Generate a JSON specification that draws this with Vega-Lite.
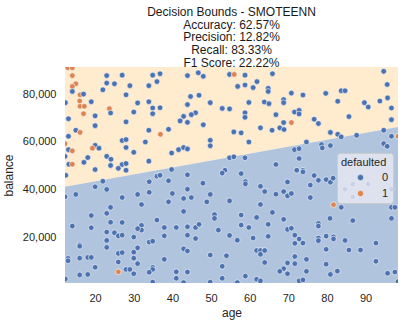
{
"$schema": "https://vega.github.io/schema/vega-lite/v6.json",
"width": 333, "height": 216,
"autosize": {"type": "none"},
"padding": {"left": 65, "top": 67, "right": 8, "bottom": 42},
"background": "white",
"config": {"font": "Liberation Sans", "view": {"stroke": null}},
"title": {"text": ["Decision Bounds - SMOTEENN", "Accuracy: 62.57%", "Precision: 12.82%", "Recall: 83.33%", "F1 Score: 22.22%"], "fontSize": 12, "fontWeight": "normal", "color": "#1a1a1a", "lineHeight": 12.8, "offset": -3, "anchor": "middle"},
"datasets": {
"bound": [{"age": 12.2, "balance": 41300}, {"age": 98.4, "balance": 66300}],
"pts": [
{"age":12.9,"balance":91000,"defaulted":1},{"age":14.1,"balance":91000,"defaulted":1},{"age":23.0,"balance":87700,"defaulted":0},{"age":27.0,"balance":87900,"defaulted":0},{"age":34.9,"balance":87900,"defaulted":0},{"age":36.8,"balance":88500,"defaulted":0},{"age":43.9,"balance":87700,"defaulted":0},{"age":46.7,"balance":88900,"defaulted":0},{"age":48.0,"balance":87400,"defaulted":0},{"age":14.1,"balance":87700,"defaulted":1},
{"age":23.0,"balance":84600,"defaulted":0},{"age":25.0,"balance":84300,"defaulted":0},{"age":29.0,"balance":83500,"defaulted":0},{"age":33.9,"balance":83500,"defaulted":0},{"age":36.0,"balance":85200,"defaulted":0},{"age":15.0,"balance":84300,"defaulted":1},{"age":14.1,"balance":83200,"defaulted":1},{"age":14.1,"balance":81100,"defaulted":0},{"age":22.0,"balance":81800,"defaulted":0},{"age":16.1,"balance":79700,"defaulted":1},
{"age":17.0,"balance":80000,"defaulted":0},{"age":28.0,"balance":79700,"defaulted":0},{"age":44.7,"balance":79000,"defaulted":0},{"age":46.9,"balance":79500,"defaulted":0},{"age":16.0,"balance":77100,"defaulted":1},{"age":19.0,"balance":76800,"defaulted":0},{"age":12.3,"balance":76400,"defaulted":0},{"age":31.0,"balance":76300,"defaulted":0},{"age":33.9,"balance":76800,"defaulted":0},{"age":43.9,"balance":75600,"defaulted":0},
{"age":49.8,"balance":76400,"defaulted":0},{"age":16.1,"balance":74900,"defaulted":1},{"age":17.2,"balance":74900,"defaulted":1},{"age":34.9,"balance":74200,"defaulted":0},{"age":36.8,"balance":74300,"defaulted":0},{"age":52.9,"balance":74000,"defaulted":0},{"age":23.7,"balance":73900,"defaulted":1},{"age":24.0,"balance":72100,"defaulted":0},{"age":30.0,"balance":72500,"defaulted":0},{"age":34.9,"balance":71800,"defaulted":0},
{"age":46.0,"balance":72200,"defaulted":0},{"age":44.9,"balance":71400,"defaulted":0},{"age":42.9,"balance":70700,"defaulted":0},{"age":17.0,"balance":71800,"defaulted":1},{"age":20.0,"balance":70900,"defaulted":0},{"age":42.0,"balance":68800,"defaulted":0},{"age":43.9,"balance":68200,"defaulted":0},{"age":48.0,"balance":67200,"defaulted":0},{"age":28.0,"balance":68400,"defaulted":0},{"age":20.0,"balance":66800,"defaulted":0},
{"age":15.0,"balance":64900,"defaulted":0},{"age":16.1,"balance":64000,"defaulted":1},{"age":33.9,"balance":64900,"defaulted":0},{"age":39.0,"balance":65300,"defaulted":0},{"age":36.9,"balance":63200,"defaulted":1},{"age":27.0,"balance":60600,"defaulted":0},{"age":28.0,"balance":61000,"defaulted":0},{"age":33.0,"balance":60000,"defaulted":0},{"age":49.8,"balance":60700,"defaulted":0},{"age":12.2,"balance":59300,"defaulted":1},
{"age":13.1,"balance":56800,"defaulted":0},{"age":13.1,"balance":62400,"defaulted":0},{"age":20.0,"balance":58600,"defaulted":0},{"age":19.3,"balance":57400,"defaulted":1},{"age":21.0,"balance":57400,"defaulted":0},{"age":28.0,"balance":57700,"defaulted":0},{"age":30.0,"balance":55700,"defaulted":0},{"age":39.8,"balance":55400,"defaulted":0},{"age":41.6,"balance":56800,"defaulted":0},{"age":42.9,"balance":57700,"defaulted":0},
{"age":43.9,"balance":57100,"defaulted":0},{"age":49.8,"balance":58400,"defaulted":0},{"age":14.1,"balance":56300,"defaulted":1},{"age":12.2,"balance":54000,"defaulted":0},{"age":18.1,"balance":53500,"defaulted":0},{"age":23.0,"balance":54000,"defaulted":0},{"age":24.1,"balance":52800,"defaulted":0},{"age":13.2,"balance":50700,"defaulted":0},{"age":14.1,"balance":50700,"defaulted":1},{"age":17.1,"balance":51500,"defaulted":0},
{"age":27.0,"balance":50600,"defaulted":0},{"age":28.0,"balance":51000,"defaulted":0},{"age":24.0,"balance":50200,"defaulted":0},{"age":33.9,"balance":52000,"defaulted":0},{"age":26.0,"balance":49000,"defaulted":0},{"age":20.0,"balance":48500,"defaulted":0},{"age":28.0,"balance":48200,"defaulted":0},{"age":39.8,"balance":48500,"defaulted":0},{"age":13.1,"balance":69700,"defaulted":0},
{"age":54.8,"balance":88200,"defaulted":0},{"age":56.0,"balance":88200,"defaulted":1},{"age":58.8,"balance":87900,"defaulted":0},{"age":65.9,"balance":88500,"defaulted":0},{"age":94.7,"balance":89500,"defaulted":0},{"age":56.9,"balance":83200,"defaulted":0},{"age":58.8,"balance":83800,"defaulted":0},{"age":60.9,"balance":82700,"defaulted":0},{"age":61.9,"balance":85200,"defaulted":0},{"age":64.8,"balance":82400,"defaulted":0},
{"age":64.8,"balance":81100,"defaulted":0},{"age":95.6,"balance":84000,"defaulted":0},{"age":83.7,"balance":81400,"defaulted":0},{"age":84.7,"balance":81400,"defaulted":0},{"age":79.7,"balance":80300,"defaulted":0},{"age":70.8,"balance":80400,"defaulted":0},{"age":73.8,"balance":79600,"defaulted":0},{"age":54.8,"balance":73800,"defaulted":0},{"age":59.8,"balance":76500,"defaulted":0},{"age":63.8,"balance":76700,"defaulted":0},
{"age":65.0,"balance":76000,"defaulted":0},{"age":68.8,"balance":77700,"defaulted":0},{"age":68.8,"balance":76400,"defaulted":0},{"age":82.8,"balance":77000,"defaulted":0},{"age":89.7,"balance":76400,"defaulted":0},{"age":90.7,"balance":74600,"defaulted":0},{"age":93.7,"balance":77100,"defaulted":0},{"age":95.7,"balance":78400,"defaulted":0},{"age":96.7,"balance":74200,"defaulted":0},{"age":58.8,"balance":72200,"defaulted":0},
{"age":58.8,"balance":70300,"defaulted":0},{"age":66.8,"balance":71400,"defaulted":0},{"age":71.6,"balance":72500,"defaulted":0},{"age":72.8,"balance":73200,"defaulted":0},{"age":72.8,"balance":71700,"defaulted":0},{"age":76.7,"balance":69500,"defaulted":0},{"age":77.8,"balance":67700,"defaulted":0},{"age":85.7,"balance":70600,"defaulted":0},{"age":96.7,"balance":69300,"defaulted":0},{"age":68.8,"balance":68100,"defaulted":0},
{"age":70.8,"balance":68100,"defaulted":1},{"age":62.8,"balance":65900,"defaulted":0},{"age":65.8,"balance":64900,"defaulted":0},{"age":67.8,"balance":65900,"defaulted":0},{"age":68.9,"balance":65200,"defaulted":0},{"age":55.9,"balance":64200,"defaulted":0},{"age":57.8,"balance":63800,"defaulted":0},{"age":80.9,"balance":64000,"defaulted":0},{"age":82.8,"balance":63200,"defaulted":0},{"age":83.7,"balance":62100,"defaulted":0},
{"age":87.7,"balance":62800,"defaulted":0},{"age":94.7,"balance":64900,"defaulted":0},{"age":59.8,"balance":60000,"defaulted":0},{"age":74.7,"balance":60000,"defaulted":0},{"age":96.7,"balance":62400,"defaulted":0},{"age":98.4,"balance":62400,"defaulted":1},{"age":78.6,"balance":58900,"defaulted":0},{"age":78.8,"balance":57500,"defaulted":0},{"age":80.9,"balance":58500,"defaulted":0},{"age":71.6,"balance":56800,"defaulted":0},
{"age":72.8,"balance":57200,"defaulted":0},{"age":94.7,"balance":59300,"defaulted":0},{"age":95.6,"balance":58200,"defaulted":0},{"age":54.8,"balance":53400,"defaulted":0},{"age":55.9,"balance":53800,"defaulted":0},{"age":58.8,"balance":53400,"defaulted":0},{"age":72.8,"balance":53100,"defaulted":0},{"age":66.8,"balance":50600,"defaulted":0},{"age":72.2,"balance":48200,"defaulted":0},{"age":73.8,"balance":48200,"defaulted":0},{"age":53.6,"balance":48200,"defaulted":0},
{"age":57.8,"balance":46800,"defaulted":0},{"age":73.8,"balance":47500,"defaulted":0},{"age":76.7,"balance":46000,"defaulted":0},{"age":77.8,"balance":44000,"defaulted":0},{"age":79.8,"balance":44300,"defaulted":0},{"age":80.9,"balance":43200,"defaulted":0},{"age":81.6,"balance":44900,"defaulted":0},{"age":58.9,"balance":43500,"defaulted":0},{"age":58.9,"balance":42500,"defaulted":0},{"age":62.8,"balance":41500,"defaulted":0},
{"age":63.9,"balance":39300,"defaulted":0},{"age":66.8,"balance":38200,"defaulted":0},{"age":68.8,"balance":39300,"defaulted":0},{"age":69.8,"balance":37500,"defaulted":0},{"age":70.8,"balance":38500,"defaulted":0},{"age":69.8,"balance":43300,"defaulted":0},{"age":75.7,"balance":42000,"defaulted":0},{"age":75.7,"balance":36800,"defaulted":0},{"age":54.8,"balance":35400,"defaulted":0},{"age":62.8,"balance":33900,"defaulted":0},
{"age":84.7,"balance":40300,"defaulted":0},{"age":86.7,"balance":42400,"defaulted":0},{"age":90.7,"balance":42400,"defaulted":0},{"age":96.7,"balance":40300,"defaulted":0},{"age":86.7,"balance":37100,"defaulted":0},{"age":81.7,"balance":33800,"defaulted":1},{"age":83.7,"balance":32700,"defaulted":0},{"age":57.8,"balance":29500,"defaulted":0},{"age":65.9,"balance":30600,"defaulted":0},{"age":68.8,"balance":27700,"defaulted":0},
{"age":61.8,"balance":28500,"defaulted":0},{"age":64.8,"balance":25600,"defaulted":0},{"age":59.8,"balance":24300,"defaulted":0},{"age":57.8,"balance":25300,"defaulted":0},{"age":77.8,"balance":26000,"defaulted":0},{"age":77.8,"balance":24900,"defaulted":0},{"age":80.8,"balance":28100,"defaulted":0},{"age":86.7,"balance":27200,"defaulted":0},{"age":96.7,"balance":32700,"defaulted":0},{"age":97.6,"balance":32700,"defaulted":0},
{"age":96.7,"balance":28100,"defaulted":0},{"age":69.8,"balance":23500,"defaulted":0},{"age":70.8,"balance":24000,"defaulted":0},{"age":54.8,"balance":21000,"defaulted":0},{"age":56.8,"balance":19000,"defaulted":0},{"age":60.9,"balance":19900,"defaulted":0},{"age":64.8,"balance":20600,"defaulted":0},{"age":71.7,"balance":21100,"defaulted":0},{"age":72.8,"balance":19500,"defaulted":0},{"age":71.7,"balance":17700,"defaulted":0},
{"age":73.8,"balance":17800,"defaulted":0},{"age":77.8,"balance":19900,"defaulted":0},{"age":77.8,"balance":18800,"defaulted":0},{"age":79.8,"balance":20700,"defaulted":0},{"age":81.7,"balance":20400,"defaulted":0},{"age":81.7,"balance":19500,"defaulted":0},{"age":84.7,"balance":18900,"defaulted":0},{"age":92.7,"balance":17800,"defaulted":0},{"age":61.8,"balance":14700,"defaulted":0},{"age":62.8,"balance":14700,"defaulted":0},
{"age":62.8,"balance":13100,"defaulted":0},{"age":63.9,"balance":14700,"defaulted":0},{"age":54.0,"balance":12500,"defaulted":0},{"age":71.7,"balance":12200,"defaulted":0},{"age":74.7,"balance":11000,"defaulted":0},{"age":79.8,"balance":15200,"defaulted":0},{"age":85.7,"balance":14900,"defaulted":0},{"age":88.7,"balance":14900,"defaulted":0},{"age":63.9,"balance":9700,"defaulted":0},{"age":69.8,"balance":9500,"defaulted":0},
{"age":71.7,"balance":9200,"defaulted":0},{"age":79.8,"balance":9000,"defaulted":0},{"age":92.7,"balance":10200,"defaulted":0},{"age":68.8,"balance":7100,"defaulted":0},{"age":67.8,"balance":6000,"defaulted":0},{"age":69.8,"balance":5000,"defaulted":0},{"age":74.7,"balance":6000,"defaulted":0},{"age":82.7,"balance":6100,"defaulted":0},{"age":80.9,"balance":4700,"defaulted":0},{"age":95.7,"balance":5200,"defaulted":0},
{"age":97.6,"balance":5700,"defaulted":0},{"age":58.9,"balance":4000,"defaulted":0},{"age":61.8,"balance":2700,"defaulted":0},{"age":62.8,"balance":2000,"defaulted":0},{"age":72.8,"balance":2000,"defaulted":0},{"age":73.8,"balance":2400,"defaulted":0},{"age":56.8,"balance":1300,"defaulted":0},{"age":98.4,"balance":1700,"defaulted":0},
{"age":36.0,"balance":45700,"defaulted":0},{"age":36.8,"balance":46100,"defaulted":0},{"age":43.9,"balance":46300,"defaulted":0},{"age":52.9,"balance":47000,"defaulted":0},{"age":22.0,"balance":43600,"defaulted":0},{"age":34.0,"balance":43400,"defaulted":0},{"age":39.0,"balance":43800,"defaulted":0},{"age":47.9,"balance":42800,"defaulted":0},{"age":20.0,"balance":41300,"defaulted":0},{"age":23.0,"balance":40200,"defaulted":0},
{"age":43.9,"balance":40300,"defaulted":0},{"age":12.2,"balance":37100,"defaulted":0},{"age":15.0,"balance":38100,"defaulted":0},{"age":27.0,"balance":36800,"defaulted":0},{"age":31.0,"balance":38100,"defaulted":0},{"age":34.0,"balance":39000,"defaulted":0},{"age":40.0,"balance":38500,"defaulted":0},{"age":42.9,"balance":36400,"defaulted":0},{"age":44.9,"balance":36800,"defaulted":0},{"age":49.8,"balance":38100,"defaulted":0},
{"age":48.9,"balance":35000,"defaulted":0},{"age":24.0,"balance":32700,"defaulted":0},{"age":32.0,"balance":33900,"defaulted":0},{"age":39.0,"balance":35000,"defaulted":0},{"age":42.9,"balance":31000,"defaulted":0},{"age":19.0,"balance":29300,"defaulted":0},{"age":23.0,"balance":30200,"defaulted":0},{"age":50.9,"balance":29700,"defaulted":0},{"age":50.9,"balance":28100,"defaulted":0},{"age":14.1,"balance":24900,"defaulted":0},
{"age":19.0,"balance":24200,"defaulted":0},{"age":24.0,"balance":26500,"defaulted":0},{"age":27.0,"balance":26400,"defaulted":0},{"age":36.0,"balance":27400,"defaulted":0},{"age":32.0,"balance":25200,"defaulted":0},{"age":32.0,"balance":23200,"defaulted":0},{"age":31.0,"balance":23800,"defaulted":0},{"age":37.9,"balance":24300,"defaulted":0},{"age":41.0,"balance":24300,"defaulted":0},{"age":43.9,"balance":24600,"defaulted":0},
{"age":46.0,"balance":24300,"defaulted":0},{"age":46.9,"balance":25600,"defaulted":0},{"age":51.9,"balance":23200,"defaulted":0},{"age":23.0,"balance":22400,"defaulted":0},{"age":25.0,"balance":22100,"defaulted":0},{"age":26.0,"balance":20800,"defaulted":0},{"age":27.0,"balance":21100,"defaulted":0},{"age":30.0,"balance":20300,"defaulted":0},{"age":37.9,"balance":20800,"defaulted":0},{"age":43.9,"balance":21100,"defaulted":0},
{"age":46.0,"balance":19700,"defaulted":0},{"age":16.0,"balance":17100,"defaulted":0},{"age":16.0,"balance":16500,"defaulted":0},{"age":23.0,"balance":18900,"defaulted":0},{"age":34.0,"balance":18200,"defaulted":0},{"age":34.9,"balance":18600,"defaulted":0},{"age":23.0,"balance":16000,"defaulted":0},{"age":31.0,"balance":15800,"defaulted":0},{"age":26.0,"balance":13500,"defaulted":0},{"age":27.0,"balance":13800,"defaulted":0},
{"age":30.0,"balance":14000,"defaulted":0},{"age":42.9,"balance":15400,"defaulted":0},{"age":43.9,"balance":14500,"defaulted":0},{"age":49.8,"balance":12800,"defaulted":0},{"age":13.0,"balance":11400,"defaulted":0},{"age":13.0,"balance":10400,"defaulted":0},{"age":16.0,"balance":11500,"defaulted":0},{"age":18.1,"balance":11800,"defaulted":0},{"age":19.0,"balance":11800,"defaulted":0},{"age":26.0,"balance":9900,"defaulted":0},
{"age":30.0,"balance":11500,"defaulted":0},{"age":31.0,"balance":9200,"defaulted":0},{"age":37.9,"balance":11000,"defaulted":0},{"age":20.0,"balance":7700,"defaulted":0},{"age":28.0,"balance":6800,"defaulted":0},{"age":29.0,"balance":6800,"defaulted":0},{"age":34.9,"balance":7700,"defaulted":0},{"age":34.9,"balance":6800,"defaulted":0},{"age":52.9,"balance":8100,"defaulted":0},{"age":26.0,"balance":5800,"defaulted":1},
{"age":16.0,"balance":4500,"defaulted":0},{"age":18.1,"balance":4700,"defaulted":0},{"age":30.0,"balance":5000,"defaulted":0},{"age":34.0,"balance":5600,"defaulted":0},{"age":41.0,"balance":5800,"defaulted":0},{"age":43.9,"balance":5700,"defaulted":0},{"age":41.0,"balance":3100,"defaulted":0},{"age":52.9,"balance":3100,"defaulted":0},{"age":49.8,"balance":1500,"defaulted":0},{"age":34.9,"balance":1500,"defaulted":0},
{"age":42.9,"balance":1300,"defaulted":0},{"age":12.3,"balance":2800,"defaulted":0},{"age":12.4,"balance":46100,"defaulted":0}
]},
"encoding": {
"x": {"field": "age", "type": "quantitative", "scale": {"domain": [12.2, 98.4], "nice": false, "zero": false},
 "axis": {"title": "age", "values": [20, 30, 40, 50, 60, 70, 80, 90], "domain": false, "ticks": false, "grid": false, "labelFontSize": 11, "labelColor": "#262626", "labelPadding": 9, "titleFontSize": 12, "titleFontWeight": "normal", "titleColor": "#262626", "titlePadding": 4}},
"y": {"field": "balance", "type": "quantitative", "scale": {"domain": [1125, 91300], "nice": false, "zero": false},
 "axis": {"title": "balance", "values": [20000, 40000, 60000, 80000], "format": ",d", "domain": false, "ticks": false, "grid": false, "labelFontSize": 11, "labelColor": "#262626", "labelPadding": 9, "titleFontSize": 12, "titleFontWeight": "normal", "titleColor": "#262626", "titlePadding": 7}}
},
"layer": [
{"data": {"name": "bound"}, "mark": {"type": "area", "color": "#ffebcd", "opacity": 1}, "encoding": {"y2": {"datum": 91300}}},
{"data": {"name": "bound"}, "mark": {"type": "area", "color": "#b0c4de", "opacity": 1}, "encoding": {"y2": {"datum": 1125}}},
{"data": {"name": "pts"}, "mark": {"type": "circle", "size": 32, "opacity": 1, "stroke": "white", "strokeWidth": 0.6, "clip": true},
 "encoding": {"color": {"field": "defaulted", "type": "nominal", "scale": {"domain": [0, 1], "range": ["#4c72b0", "#dd8452"]},
  "legend": {"title": "defaulted", "orient": "none", "legendX": 272, "legendY": 86, "fillColor": "rgba(234,234,242,0.8)", "strokeColor": "#cccccc", "cornerRadius": 3, "padding": 4, "titleFontSize": 11, "titleFontWeight": "normal", "titleColor": "#262626", "labelFontSize": 11, "labelColor": "#262626", "symbolType": "circle", "symbolSize": 40, "symbolStrokeColor": "white", "symbolStrokeWidth": 0.6, "symbolOpacity": 1, "symbolOffset": 14, "labelOffset": 16, "rowPadding": 4, "titlePadding": 4}}}}
]
}
